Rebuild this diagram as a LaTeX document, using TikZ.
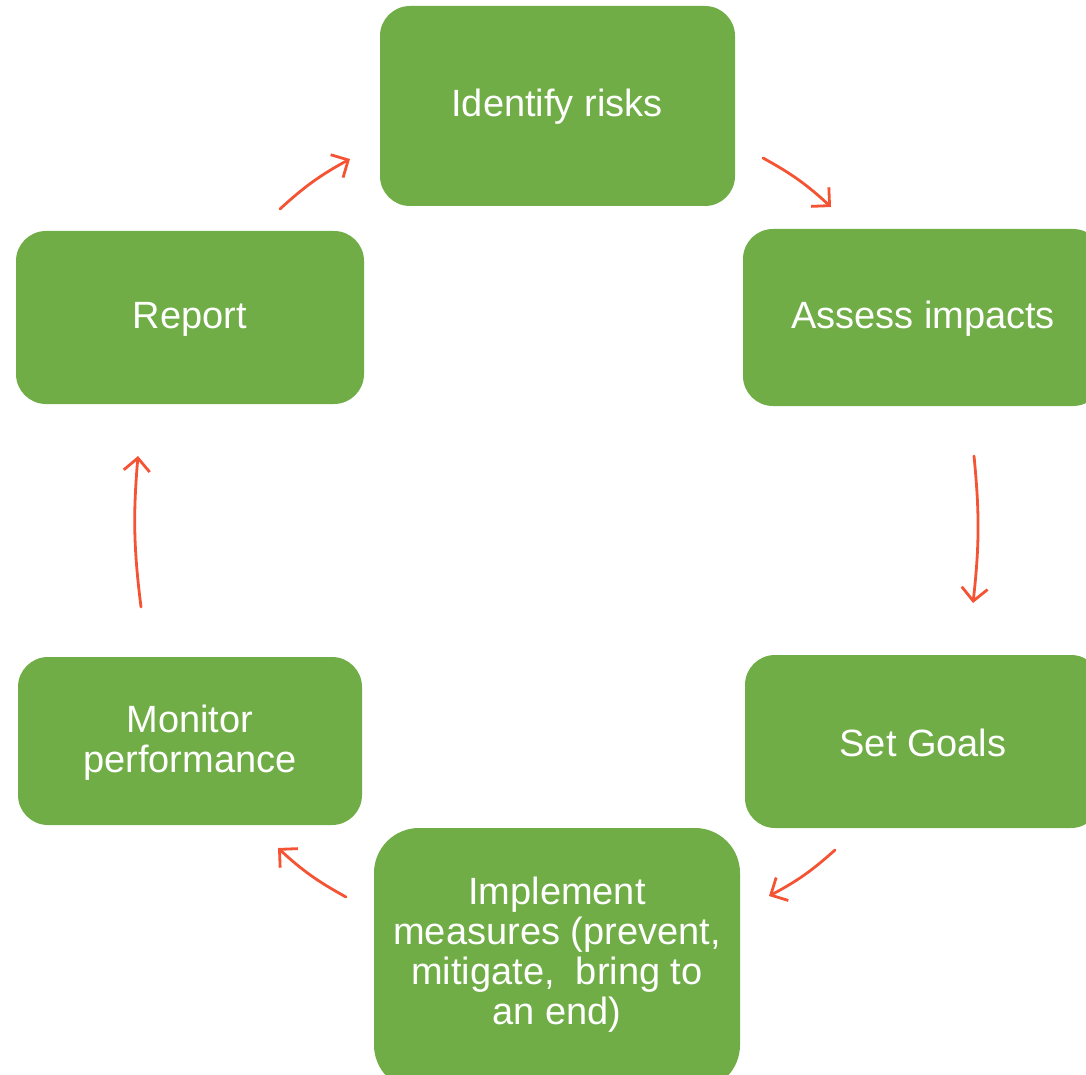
\documentclass[tikz,border=0pt]{standalone}
\usepackage{fontspec}
\setmainfont{Liberation Sans}
\usetikzlibrary{arrows.meta}
\definecolor{boxgreen}{RGB}{112,173,71}
\definecolor{arrowred}{RGB}{244,84,52}
\begin{document}
\begin{tikzpicture}[x=1pt,y=-1pt,
  stepbox/.style={text=white, font=\fontsize{38}{40}\selectfont,
    align=center, inner sep=0pt},
  flow/.style={draw=arrowred, line width=2.8pt, line cap=round,
    -{Straight Barb[length=13pt,width=26pt,line width=2.8pt]}, bend left=7}]
\useasboundingbox (0,0) rectangle (1086,1075);
\begin{scope}
\clip (0,0) rectangle (1086,1075);
% process steps: rounded panels with white captions
\fill[boxgreen, rounded corners=30pt] (380,6) rectangle (735,206);
\node[stepbox] (identify) at (557,107) {Identify risks};
\fill[boxgreen, rounded corners=30pt] (743,229) rectangle (1103,406);
\node[stepbox] (assess) at (923,319) {Assess impacts};
\fill[boxgreen, rounded corners=30pt] (745,655) rectangle (1101,828);
\node[stepbox] (goals) at (923,743) {Set Goals};
\fill[boxgreen, rounded corners=45pt] (374,828) rectangle (740,1090);
\node[stepbox] (implement) at (557,955) {Implement\\measures (prevent,\\mitigate,\ \ bring to\\an end)};
\fill[boxgreen, rounded corners=30pt] (18,657) rectangle (362,825);
\node[stepbox] (monitor) at (190,743) {Monitor\\performance};
\fill[boxgreen, rounded corners=30pt] (16,231) rectangle (364,404);
\node[stepbox] (report) at (190,319) {Report};
\end{scope}
% connector end points
\coordinate (r1) at (280,209);  \coordinate (i0) at (350,159);
\coordinate (i1) at (763,158);  \coordinate (a0) at (831,207);
\coordinate (a1) at (974,456);  \coordinate (g0) at (973,603);
\coordinate (g1) at (835,850);  \coordinate (m0) at (769,896);
\coordinate (m1) at (346,897);  \coordinate (o0) at (278,848);
\coordinate (o1) at (141,607);  \coordinate (p0) at (138,456);
% cycle arrows
\draw[flow] (r1) to (i0);
\draw[flow] (i1) to (a0);
\draw[flow, bend left=6] (a1) to (g0);
\draw[flow] (g1) to (m0);
\draw[flow] (m1) to (o0);
\draw[flow, bend left=6] (o1) to (p0);
\end{tikzpicture}
\end{document}
